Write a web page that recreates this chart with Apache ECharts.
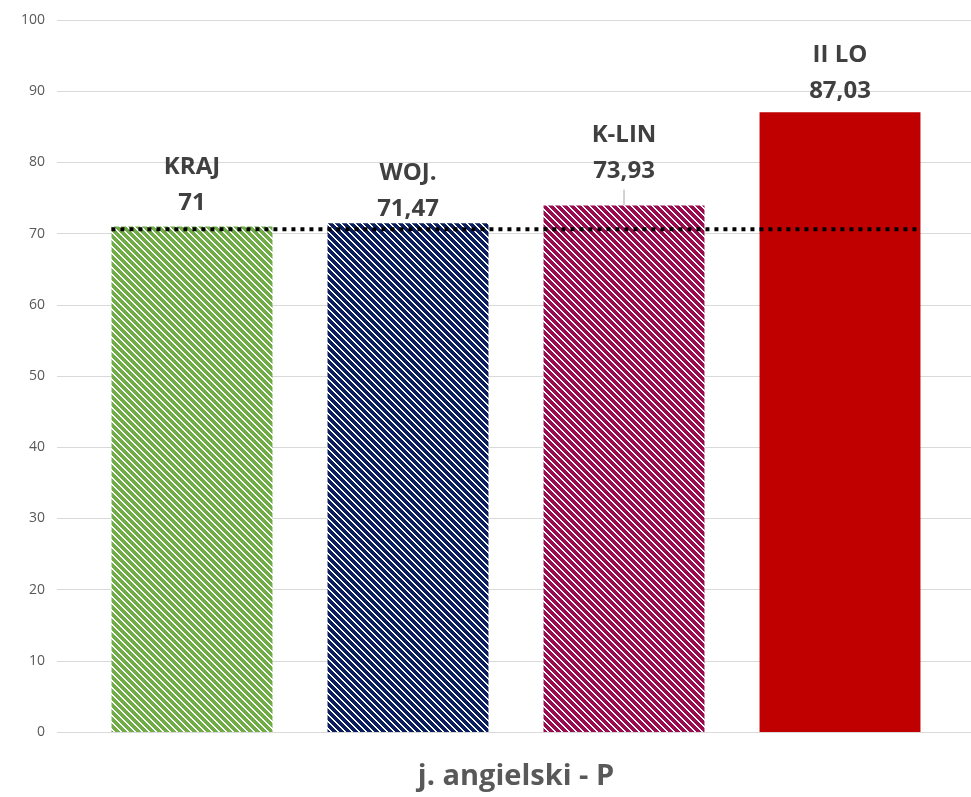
<!DOCTYPE html>
<html>
<head>
<meta charset="utf-8">
<script src="https://cdn.jsdelivr.net/npm/echarts@6/dist/echarts.min.js"></script>
<style>
html,body{margin:0;padding:0;background:#fff;}
#chart{width:971px;height:797px;}
</style>
</head>
<body>
<div id="chart"></div>
<script>
// ---- data ----
const categories = ['KRAJ', 'WOJ.', 'K-LIN', 'II LO'];
const values = [71, 71.47, 73.93, 87.03];
const barColors = ['#70AD47', '#0B1F5E', '#9A0B50', '#C00000'];
const hatched = [true, true, true, false];
const referenceValue = 70.6;            // dotted reference line
const referenceSpan = [-0.373, 3.36];   // in category units (index)
const yTicks = [0, 10, 20, 30, 40, 50, 60, 70, 80, 90, 100];
const axisTitle = 'j. angielski - P';

// ---- styling helpers ----
function hatchPattern(color) {
  const s = 7;
  const c = document.createElement('canvas');
  c.width = s; c.height = s;
  const ctx = c.getContext('2d');
  ctx.fillStyle = '#ffffff';
  ctx.fillRect(0, 0, s, s);
  ctx.fillStyle = color;
  for (let y = 0; y < s; y++) {
    for (let x = 0; x < s; x++) {
      const d = ((x - y) % s + s) % s;
      if (d < 5) ctx.fillRect(x, y, 1, 1);
    }
  }
  return { image: c, repeat: 'repeat' };
}
function fmt(v) { return String(v).replace('.', ','); }

const labelDistances = [5, -4, 2, 3];
const leaderIndex = 2;

const barData = values.map((v, i) => ({
  value: v,
  itemStyle: { color: hatched[i] ? hatchPattern(barColors[i]) : barColors[i] },
  label: { distance: labelDistances[i] },
  labelLine: { show: i === leaderIndex, lineStyle: { color: '#A6A6A6', width: 1 } }
}));

const chart = echarts.init(document.getElementById('chart'), null, { renderer: 'canvas' });
const textColor = '#404040';
const font = '"Open Sans", "DejaVu Sans", sans-serif';

chart.setOption({
  animation: false,
  backgroundColor: '#ffffff',
  grid: [
    { left: 57, right: 0, top: 20, bottom: 65, containLabel: false, outerBoundsMode: 'none' },
    { left: 84, right: 23, top: 20, bottom: 65, containLabel: false, outerBoundsMode: 'none' }
  ],
  xAxis: [
    { gridIndex: 0, type: 'value', min: 0, max: 1, show: false },
    {
      gridIndex: 1, type: 'category', data: categories,
      axisLine: { show: false }, axisTick: { show: false }, axisLabel: { show: false },
      name: axisTitle, nameLocation: 'middle', nameGap: 30,
      nameTextStyle: { fontFamily: font, fontSize: 29, fontWeight: 'bold', color: '#595959' }
    },
    { gridIndex: 1, type: 'value', min: -0.5, max: categories.length - 0.5, show: false }
  ],
  yAxis: [
    {
      gridIndex: 0, type: 'value', min: yTicks[0], max: yTicks[yTicks.length - 1], interval: yTicks[1] - yTicks[0],
      axisLine: { show: false }, axisTick: { show: false },
      axisLabel: { color: '#595959', fontSize: 14, fontFamily: font, margin: 12 },
      splitLine: { lineStyle: { color: '#D9D9D9', width: 1 } }
    },
    { gridIndex: 1, type: 'value', min: yTicks[0], max: yTicks[yTicks.length - 1], show: false }
  ],
  series: [
    {
      type: 'bar', xAxisIndex: 1, yAxisIndex: 1,
      data: barData,
      barCategoryGap: '25.5%',
      label: {
        show: true, position: 'top',
        formatter: p => p.name + '\n' + fmt(p.value),
        fontFamily: font, fontSize: 24, fontWeight: 'bold', color: textColor, lineHeight: 36
      },
      labelLayout: function (params) {
        if (params.dataIndex === leaderIndex) return { dy: -14 };
        return {};
      }
    },
    {
      type: 'line', xAxisIndex: 2, yAxisIndex: 1,
      data: [[referenceSpan[0], referenceValue], [referenceSpan[1], referenceValue]],
      symbol: 'none', silent: true, z: 5,
      lineStyle: { color: '#000000', width: 4, type: [4, 5] }
    }
  ]
});
</script>
</body>
</html>
